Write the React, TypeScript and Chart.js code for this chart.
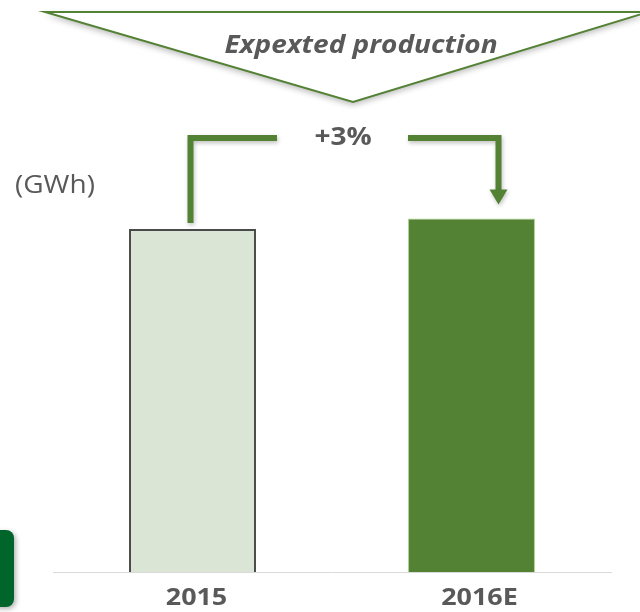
import { useEffect, useRef } from "react";
import { Chart, registerables } from "chart.js";

Chart.register(...registerables);

// Annual production, indexed so that 2015 = 100
const categories = ["2015", "2016E"];
const production = [100, 103];
const unitLabel = "(GWh)";
const bannerLabel = "Expexted production";

const GREEN = "#548235";
const TEXT_GREY = "#595959";
const FONT = "'Open Sans', 'Liberation Sans', sans-serif";
const STRETCH = 1.12;
const LABEL_SHIFT = [4, 8];

function drawText(
  ctx: CanvasRenderingContext2D,
  text: string,
  x: number,
  y: number,
  font: string,
  align: CanvasTextAlign
) {
  ctx.save();
  ctx.font = font;
  ctx.fillStyle = TEXT_GREY;
  ctx.textBaseline = "alphabetic";
  ctx.textAlign = align;
  ctx.translate(x, y);
  ctx.scale(STRETCH, 1);
  ctx.fillText(text, 0, 0);
  ctx.restore();
}

const decorPlugin = {
  id: "decor",
  afterDraw(chart: Chart) {
    const ctx = chart.ctx;
    const xScale = chart.scales.x;
    const bars = chart.getDatasetMeta(0).data as any[];

    // banner triangle
    ctx.save();
    ctx.beginPath();
    ctx.moveTo(45, 12);
    ctx.lineTo(648, 12);
    ctx.lineTo(353, 102);
    ctx.closePath();
    ctx.shadowColor = "rgba(0,0,0,0.28)";
    ctx.shadowBlur = 6;
    ctx.shadowOffsetY = 3;
    ctx.fillStyle = "#ffffff";
    ctx.fill();
    ctx.shadowColor = "rgba(0,0,0,0)";
    ctx.lineWidth = 2;
    ctx.strokeStyle = GREEN;
    ctx.lineJoin = "miter";
    ctx.stroke();
    ctx.restore();
    drawText(ctx, bannerLabel, 361, 53, `italic bold 25px ${FONT}`, "center");

    // growth bracket from the 2015 bar to the 2016E bar
    const b0 = bars[0];
    const b1 = bars[1];
    const lineY = 138;
    const leftX = b0.x - 2;
    const rightX = b1.x + 27;
    const tipY = b1.y - 14;
    ctx.save();
    ctx.shadowColor = "rgba(0,0,0,0.25)";
    ctx.shadowBlur = 4;
    ctx.shadowOffsetX = 1;
    ctx.shadowOffsetY = 2;
    ctx.strokeStyle = GREEN;
    ctx.fillStyle = GREEN;
    ctx.lineWidth = 6;
    ctx.lineCap = "butt";
    ctx.lineJoin = "miter";
    ctx.beginPath();
    ctx.moveTo(leftX, b0.y - 6);
    ctx.lineTo(leftX, lineY);
    ctx.lineTo(277, lineY);
    ctx.stroke();
    ctx.beginPath();
    ctx.moveTo(408, lineY);
    ctx.lineTo(rightX, lineY);
    ctx.lineTo(rightX, tipY - 14);
    ctx.stroke();
    ctx.beginPath();
    ctx.moveTo(rightX - 9, tipY - 15);
    ctx.lineTo(rightX + 9, tipY - 15);
    ctx.lineTo(rightX, tipY);
    ctx.closePath();
    ctx.fill();
    ctx.restore();

    const growth = Math.round((production[1] / production[0] - 1) * 100);
    drawText(ctx, `${growth >= 0 ? "+" : ""}${growth}%`, 343, 145, `bold 25px ${FONT}`, "center");

    // unit label
    drawText(ctx, unitLabel, 15, 193, `25px ${FONT}`, "left");

    // category labels under the bars
    categories.forEach((c, i) => {
      const x = xScale.getPixelForTick(i) + LABEL_SHIFT[i];
      drawText(ctx, c, x, 605, `bold 24px ${FONT}`, "center");
    });

    // side tab
    ctx.save();
    ctx.shadowColor = "rgba(0,0,0,0.3)";
    ctx.shadowBlur = 5;
    ctx.shadowOffsetX = 2;
    ctx.shadowOffsetY = 2;
    ctx.fillStyle = "#00652B";
    ctx.beginPath();
    (ctx as any).roundRect(-10, 530, 24, 77, 8);
    ctx.fill();
    ctx.restore();
  },
};

export default function App() {
  const canvasRef = useRef<HTMLCanvasElement | null>(null);

  useEffect(() => {
    const canvas = canvasRef.current;
    if (!canvas) return;
    const chart = new Chart(canvas, {
      type: "bar",
      data: {
        labels: categories,
        datasets: [
          {
            data: production,
            backgroundColor: ["#DBE5D5", GREEN],
            borderColor: ["#4A4A4A", "#A9D18E"],
            borderWidth: [2, 1],
            barPercentage: 0.455,
            categoryPercentage: 1,
          },
        ],
      },
      options: {
        responsive: false,
        animation: false,
        layout: { padding: { left: 53, right: 29, top: 23, bottom: 40 } },
        plugins: {
          legend: { display: false },
          tooltip: { enabled: false },
        },
        scales: {
          x: {
            display: true,
            grid: { display: false, drawTicks: false },
            ticks: { display: false },
            border: { display: true, color: "#D9D9D9", width: 1 },
          },
          y: {
            display: false,
            min: 0,
            max: 160,
          },
        },
      },
      plugins: [decorPlugin],
    });
    return () => chart.destroy();
  }, []);

  return (
    <div style={{ position: "fixed", left: 0, top: 0, width: 640, height: 612, background: "#ffffff" }}>
      <canvas ref={canvasRef} width={640} height={612} />
    </div>
  );
}
